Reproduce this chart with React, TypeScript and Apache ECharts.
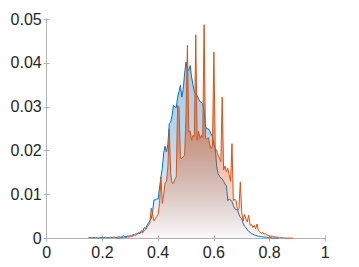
import React, { useEffect, useRef } from "react";
import * as echarts from "echarts";

const blueX = [
  0.150, 0.155, 0.160, 0.165, 0.170, 0.175, 0.180, 0.185, 0.190, 0.195,
  0.200, 0.205, 0.210, 0.215, 0.220, 0.225, 0.230, 0.235, 0.240, 0.245,
  0.250, 0.255, 0.260, 0.265, 0.270, 0.275, 0.280, 0.285, 0.290, 0.295,
  0.300, 0.305, 0.310, 0.315, 0.320, 0.325, 0.330, 0.335, 0.340, 0.345,
  0.350, 0.355, 0.360, 0.365, 0.370, 0.375, 0.380, 0.385, 0.390, 0.395,
  0.400, 0.405, 0.410, 0.415, 0.420, 0.425, 0.430, 0.435, 0.440, 0.445,
  0.450, 0.455, 0.460, 0.465, 0.470, 0.475, 0.480, 0.485, 0.490, 0.495,
  0.500, 0.505, 0.510, 0.515, 0.520, 0.525, 0.530, 0.535, 0.540, 0.545,
  0.550, 0.555, 0.560, 0.565, 0.570, 0.575, 0.580, 0.585, 0.590, 0.595,
  0.600, 0.605, 0.610, 0.615, 0.620, 0.625, 0.630, 0.635, 0.640, 0.645,
  0.650, 0.655, 0.660, 0.665, 0.670, 0.675, 0.680, 0.685, 0.690, 0.695,
  0.700, 0.705, 0.710, 0.715, 0.720, 0.725, 0.730, 0.735, 0.740, 0.745,
  0.750, 0.755, 0.760, 0.765, 0.770, 0.775, 0.780, 0.785, 0.790, 0.795,
  0.800, 0.805, 0.810, 0.815, 0.820, 0.825, 0.830,
];
const blueY = [
  0.0002, 0.0002, 0.0002, 0.0002, 0.0002, 0.0002, 0.0002, 0.0001, 0.0002, 0.0002,
  0.0002, 0.0002, 0.0003, 0.0002, 0.0002, 0.0002, 0.0003, 0.0002, 0.0003, 0.0003,
  0.0002, 0.0003, 0.0004, 0.0003, 0.0004, 0.0006, 0.0005, 0.0004, 0.0006, 0.0005,
  0.0007, 0.0006, 0.0009, 0.0008, 0.0011, 0.0010, 0.0014, 0.0012, 0.0018, 0.0016,
  0.0025, 0.0022, 0.0030, 0.0035, 0.0040, 0.0045, 0.0060, 0.0088, 0.0088, 0.0090,
  0.0090, 0.0115, 0.0140, 0.0160, 0.0195, 0.0210, 0.0197, 0.0215, 0.0262, 0.0265,
  0.0280, 0.0303, 0.0300, 0.0298, 0.0322, 0.0335, 0.0349, 0.0322, 0.0340, 0.0375,
  0.0402, 0.0385, 0.0383, 0.0394, 0.0368, 0.0350, 0.0334, 0.0328, 0.0326, 0.0318,
  0.0312, 0.0310, 0.0307, 0.0290, 0.0255, 0.0250, 0.0250, 0.0245, 0.0238, 0.0232,
  0.0215, 0.0205, 0.0165, 0.0148, 0.0142, 0.0138, 0.0136, 0.0130, 0.0124, 0.0120,
  0.0086, 0.0090, 0.0088, 0.0084, 0.0075, 0.0068, 0.0066, 0.0065, 0.0055, 0.0048,
  0.0045, 0.0035, 0.0028, 0.0025, 0.0020, 0.0016, 0.0014, 0.0011, 0.0010, 0.0008,
  0.0007, 0.0006, 0.0005, 0.0005, 0.0004, 0.0004, 0.0003, 0.0003, 0.0003, 0.0002,
  0.0002, 0.0002, 0.0001, 0.0001, 0.0001, 0.0001, 0.0000,
];

const orangeX = [
  0.250, 0.255, 0.260, 0.265, 0.270, 0.275, 0.280, 0.285, 0.290, 0.295,
  0.300, 0.305, 0.310, 0.315, 0.320, 0.325, 0.330, 0.335, 0.340, 0.345,
  0.350, 0.355, 0.360, 0.365, 0.370, 0.375, 0.380, 0.385, 0.390, 0.395,
  0.400, 0.405, 0.410, 0.415, 0.420, 0.425, 0.430, 0.435, 0.440, 0.445,
  0.450, 0.455, 0.460, 0.465, 0.470, 0.475, 0.480, 0.485, 0.490, 0.495,
  0.500, 0.505, 0.510, 0.515, 0.520, 0.525, 0.530, 0.535, 0.540, 0.545,
  0.550, 0.555, 0.560, 0.565, 0.570, 0.575, 0.580, 0.585, 0.590, 0.595,
  0.600, 0.605, 0.610, 0.615, 0.620, 0.625, 0.630, 0.635, 0.640, 0.645,
  0.650, 0.655, 0.660, 0.665, 0.670, 0.675, 0.680, 0.685, 0.690, 0.695,
  0.700, 0.705, 0.710, 0.715, 0.720, 0.725, 0.730, 0.735, 0.740, 0.745,
  0.750, 0.755, 0.760, 0.765, 0.770, 0.775, 0.780, 0.785, 0.790, 0.795,
  0.800, 0.805, 0.810, 0.815, 0.820, 0.825, 0.830, 0.835, 0.840, 0.845,
  0.850, 0.855, 0.860, 0.865, 0.870, 0.875, 0.880, 0.885,
];
const orangeY = [
  0.0000, 0.0001, 0.0001, 0.0001, 0.0002, 0.0002, 0.0003, 0.0002, 0.0004, 0.0003,
  0.0005, 0.0004, 0.0006, 0.0008, 0.0007, 0.0010, 0.0012, 0.0011, 0.0015, 0.0013,
  0.0018, 0.0020, 0.0025, 0.0030, 0.0035, 0.0069, 0.0055, 0.0040, 0.0045, 0.0050,
  0.0055, 0.0080, 0.0140, 0.0080, 0.0100, 0.0127, 0.0130, 0.0165, 0.0250, 0.0149,
  0.0126, 0.0126, 0.0135, 0.0140, 0.0303, 0.0300, 0.0183, 0.0183, 0.0186, 0.0190,
  0.0280, 0.0440, 0.0243, 0.0245, 0.0224, 0.0235, 0.0232, 0.0464, 0.0224, 0.0245,
  0.0228, 0.0235, 0.0230, 0.0487, 0.0228, 0.0227, 0.0230, 0.0215, 0.0205, 0.0210,
  0.0425, 0.0200, 0.0202, 0.0190, 0.0183, 0.0175, 0.0322, 0.0156, 0.0165, 0.0152,
  0.0160, 0.0145, 0.0130, 0.0216, 0.0086, 0.0090, 0.0086, 0.0064, 0.0068, 0.0129,
  0.0060, 0.0040, 0.0055, 0.0045, 0.0038, 0.0053, 0.0030, 0.0032, 0.0025, 0.0030,
  0.0022, 0.0033, 0.0018, 0.0015, 0.0012, 0.0014, 0.0010, 0.0011, 0.0008, 0.0007,
  0.0006, 0.0005, 0.0005, 0.0004, 0.0004, 0.0003, 0.0003, 0.0002, 0.0002, 0.0002,
  0.0002, 0.0001, 0.0001, 0.0001, 0.0001, 0.0001, 0.0001, 0.0000,
];

const xTicks = { min: 0, max: 1, interval: 0.2 };
const yTicks = { min: 0, max: 0.05, interval: 0.01 };

const FONT = "Liberation Sans, Arial, Helvetica, sans-serif";
const AXIS_COLOR = "#b3b3b3";
const LABEL_COLOR = "#262626";

export default function App() {
  const ref = useRef<HTMLDivElement>(null);
  useEffect(() => {
    if (!ref.current) return;
    const chart = echarts.init(ref.current, undefined, { renderer: "svg" });
    const axisCommon = {
      axisLine: { show: true, lineStyle: { color: AXIS_COLOR, width: 1 } },
      axisTick: { show: true, inside: true, length: 3, lineStyle: { color: AXIS_COLOR } },
      splitLine: { show: false },
    };
    const fmtY = (v: number) => (v === 0 ? "0" : v.toFixed(2));
    const fmtX = (v: number) => (v === 0 ? "0" : v === 1 ? "1" : v.toFixed(1));
    chart.setOption({
      animation: false,
      backgroundColor: "#ffffff",
      grid: { left: 46.7, right: 33.7, top: 19, bottom: 28.5, containLabel: false },
      xAxis: [
        {
          type: "value",
          ...xTicks,
          position: "bottom",
          ...axisCommon,
          axisLabel: { color: LABEL_COLOR, fontSize: 16, fontFamily: FONT, margin: 6, formatter: fmtX },
        },
        {
          type: "value",
          ...xTicks,
          position: "top",
          ...axisCommon,
          axisLabel: { show: false },
        },
      ],
      yAxis: [
        {
          type: "value",
          ...yTicks,
          position: "left",
          ...axisCommon,
          axisLabel: { color: LABEL_COLOR, fontSize: 16, fontFamily: FONT, margin: 5, formatter: fmtY },
        },
        {
          type: "value",
          ...yTicks,
          position: "right",
          ...axisCommon,
          axisLabel: { show: false },
        },
      ],
      series: [
        {
          type: "line",
          data: blueX.map((x, i) => [x, blueY[i]]),
          showSymbol: false,
          symbol: "none",
          lineStyle: { color: "#0072BD", width: 1 },
          areaStyle: {
            opacity: 1,
            color: new echarts.graphic.LinearGradient(0, 0, 0, 1, [
              { offset: 0, color: "rgba(0,114,189,0.36)" },
              { offset: 0.45, color: "rgba(0,114,189,0.28)" },
              { offset: 1, color: "rgba(0,114,189,0.02)" },
            ]),
          },
          z: 2,
        },
        {
          type: "line",
          data: orangeX.map((x, i) => [x, orangeY[i]]),
          showSymbol: false,
          symbol: "none",
          lineStyle: { color: "#D95319", width: 1 },
          areaStyle: {
            opacity: 1,
            color: new echarts.graphic.LinearGradient(0, 0, 0, 1, [
              { offset: 0, color: "rgba(217,83,25,0.6)" },
              { offset: 0.5, color: "rgba(217,83,25,0.53)" },
              { offset: 1, color: "rgba(217,83,25,0.02)" },
            ]),
          },
          z: 3,
        },
      ],
    });
    return () => chart.dispose();
  }, []);
  return <div ref={ref} style={{ width: 359, height: 267, margin: -8 }} />;
}
